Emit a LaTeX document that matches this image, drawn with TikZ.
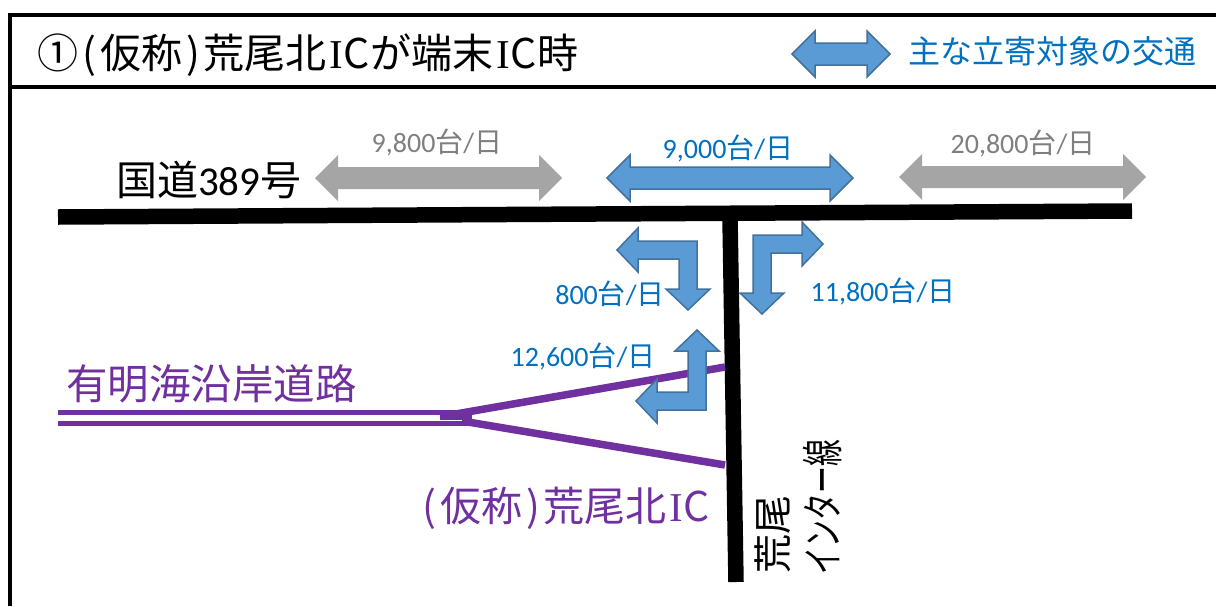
\documentclass[tikz,border=0pt]{standalone}
\usepackage{fontspec}
\setmainfont{Carlito}
\newfontfamily\cjk{Noto Sans CJK JP}
\newfontfamily\serifI{Liberation Serif}
\usetikzlibrary{positioning}
\tikzstyle{pixelPlan} = [x = 1pt, y = -1pt]
\definecolor{arrowBlue}{RGB}{91,155,213}
\definecolor{arrowEdge}{RGB}{65,113,156}
\definecolor{arrowGray}{RGB}{165,165,165}
\definecolor{textBlue}{RGB}{0,112,192}
\definecolor{textGray}{RGB}{127,127,127}
\definecolor{roadPurple}{RGB}{112,48,160}
\tikzstyle{frameLine} = [color=black, line width=4pt]
\tikzstyle{roadLine} = [color=black, line width=15.5pt]
\tikzstyle{expressLine} = [color=roadPurple, line width=5pt]
\tikzstyle{rampLine} = [color=roadPurple, line width=7.5pt]
\tikzstyle{mainArrow} = [fill=arrowBlue, draw=arrowEdge, line width=1.5pt, line join=miter]
\tikzstyle{otherArrow} = [fill=arrowGray, draw=none]
\tikzstyle{countText} = [font=\fontsize{28}{28}\selectfont, inner sep=0pt]
\tikzstyle{bigText} = [inner sep=0pt, anchor=west]
\newcommand{\icText}{\kern3pt{\serifI I}{\cjk C}\kern1pt}
\newcommand{\parenText}[2]{\kern#1pt(\kern#1pt#2\kern#1pt)\kern#1pt}
\newcommand{\doubleArrow}[4][mainArrow]{\draw [#1] (#2,#4) -- (#2+23,#4-23) -- (#2+23,#4-11) -- (#3-23,#4-11) -- (#3-23,#4-23) -- (#3,#4) -- (#3-23,#4+23) -- (#3-23,#4+11) -- (#2+23,#4+11) -- (#2+23,#4+23) -- cycle;}
\newcommand{\bentArrow}[6]{\draw [mainArrow, shift={(#1,#2)}, xscale=#3, yscale=#4] (0,0) -- (#5-21,0) -- (#5-21,-13) -- (#5,9) -- (#5-21,31) -- (#5-21,18) -- (18,18) -- (18,#6-21) -- (31,#6-21) -- (9,#6) -- (-13,#6-21) -- (0,#6-21) -- cycle;}
\newcommand{\countLabel}[5]{\node [countText, text=#4] (#1) at (#2,#3) {#5{\cjk 台}/{\cjk 日}};}
\begin{document}
\begin{tikzpicture}[pixelPlan]
  \useasboundingbox (0,0) rectangle (1216,606);
  % frame and header
  \draw [frameLine] (10,606) -- (10,15) -- (1216,15);
  \draw [frameLine] (10,87) -- (1216,87);
  \node [bigText, font=\fontsize{41}{41}\selectfont\cjk] (titleText) at (37,55) {①\parenText{4}{仮称}荒尾北\icText が端末\icText 時};
  \doubleArrow{792}{890}{54}
  \node [bigText, text=textBlue, font=\fontsize{32}{32}\selectfont\cjk] (legendText) at (908,51) {主な立寄対象の交通};
  % roads
  \draw [roadLine] (58,217) -- (1132,211);
  \draw [roadLine] (730,218) -- (736,582);
  \draw [expressLine] (58,412) -- (458,412);
  \draw [expressLine] (58,423) -- (472,423);
  \draw [expressLine] (440,417.5) -- (472,417.5);
  \draw [rampLine] (450,415) -- (725,367);
  \draw [rampLine] (462,421) -- (725,465);
  % road names
  \node [bigText, font=\fontsize{41}{41}\selectfont] (routeText) at (116,180) {{\cjk 国道}389{\cjk 号}};
  \node [bigText, text=roadPurple, font=\fontsize{41.5}{41.5}\selectfont\cjk] (expressText) at (66,384) {有明海沿岸道路};
  \node [bigText, text=roadPurple, font=\fontsize{41}{41}\selectfont\cjk] (icText) at (418,508) {\parenText{4}{仮称}荒尾北\icText};
  \node [inner sep=0pt, rotate=90, font=\fontsize{39}{39}\selectfont\cjk] (araoText) at (773,534) {荒尾};
  \node [inner sep=0pt, rotate=90, font=\fontsize{42}{42}\selectfont\cjk] (lineText) at (823,507) {\scalebox{.64}[1]{インター線}};
  % traffic arrows
  \doubleArrow[otherArrow]{315}{562}{178}
  \doubleArrow{607}{853}{178}
  \doubleArrow[otherArrow]{899}{1146}{177}
  \bentArrow{697}{241}{-1}{1}{80}{69}
  \bentArrow{753}{235}{1}{1}{70}{79}
  \bentArrow{706}{410}{-1}{-1}{70}{80}
  % traffic counts
  \countLabel{leftCount}{437}{142}{textGray}{9,800}
  \countLabel{midCount}{728}{148}{textBlue}{9,000}
  \countLabel{rightCount}{1023}{143}{textGray}{20,800}
  \countLabel{southCount}{610}{294}{textBlue}{800}
  \countLabel{northCount}{883}{291}{textBlue}{11,800}
  \countLabel{rampCount}{583}{356}{textBlue}{12,600}
\end{tikzpicture}
\end{document}
